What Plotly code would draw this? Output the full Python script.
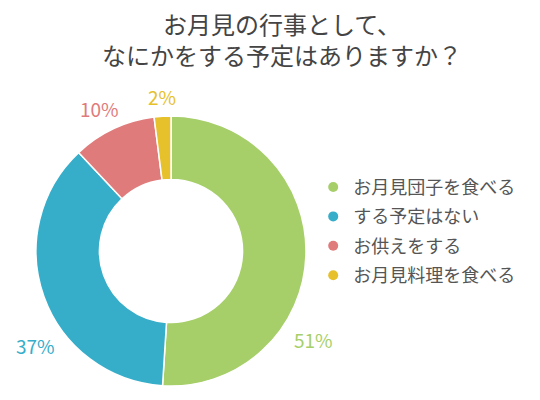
import plotly.graph_objects as go

labels = ["お月見団子を食べる", "する予定はない", "お供えをする", "お月見料理を食べる"]
values = [51, 37, 10, 2]
colors = ["#a6cf6a", "#36adc9", "#e07b7b", "#e6c12c"]
title = "お月見の行事として、<br>なにかをする予定はありますか？"
font = "Noto Sans CJK JP"

W, H = 540, 400

fig = go.Figure()
fig.add_trace(go.Pie(
    labels=labels, values=values, hole=0.53, sort=False,
    direction="clockwise", rotation=0,
    marker=dict(colors=colors, line=dict(color="white", width=1.5)),
    textinfo="none",
    domain=dict(x=[36 / W, 306 / W], y=[14 / H, 284 / H]),
    showlegend=False, hoverinfo="label+percent",
))

# legend with round markers, one group each so the gap can be widened
for lab, col in zip(labels, colors):
    fig.add_trace(go.Scatter(
        x=[None], y=[None], mode="markers", name=lab, legendgroup=lab,
        marker=dict(color=col, size=10, symbol="circle"),
    ))

# percent labels sit outside the ring, like the original chart
label_pos = [(313, 339), (35, 345), (99, 109), (162, 97)]
for v, col, (px_, py_) in zip(values, colors, label_pos):
    fig.add_annotation(
        text=f"{v}%", x=px_ / W, y=1 - py_ / H, xref="paper", yref="paper",
        showarrow=False, xanchor="center", yanchor="middle",
        font=dict(size=19, color=col, family=font),
    )

fig.add_annotation(
    text=title, x=282 / W, y=1 - 4 / H, xref="paper", yref="paper",
    showarrow=False, xanchor="center", yanchor="top", align="center",
    font=dict(size=24, color="#444", family=font),
)

fig.update_layout(
    width=W, height=H,
    margin=dict(l=0, r=0, t=0, b=0),
    paper_bgcolor="white", plot_bgcolor="white",
    font=dict(family=font, color="#555"),
    xaxis=dict(visible=False), yaxis=dict(visible=False),
    legend=dict(x=0.58, y=0.578, xanchor="left", yanchor="top",
                font=dict(size=18, color="#555", family=font),
                tracegroupgap=3, itemwidth=30, bgcolor="rgba(0,0,0,0)"),
)

# drop the browser's default page margin so the figure starts at 0,0
fig.write_html("out.html", config={"displayModeBar": False},
               post_script="document.body.style.margin='0';")
